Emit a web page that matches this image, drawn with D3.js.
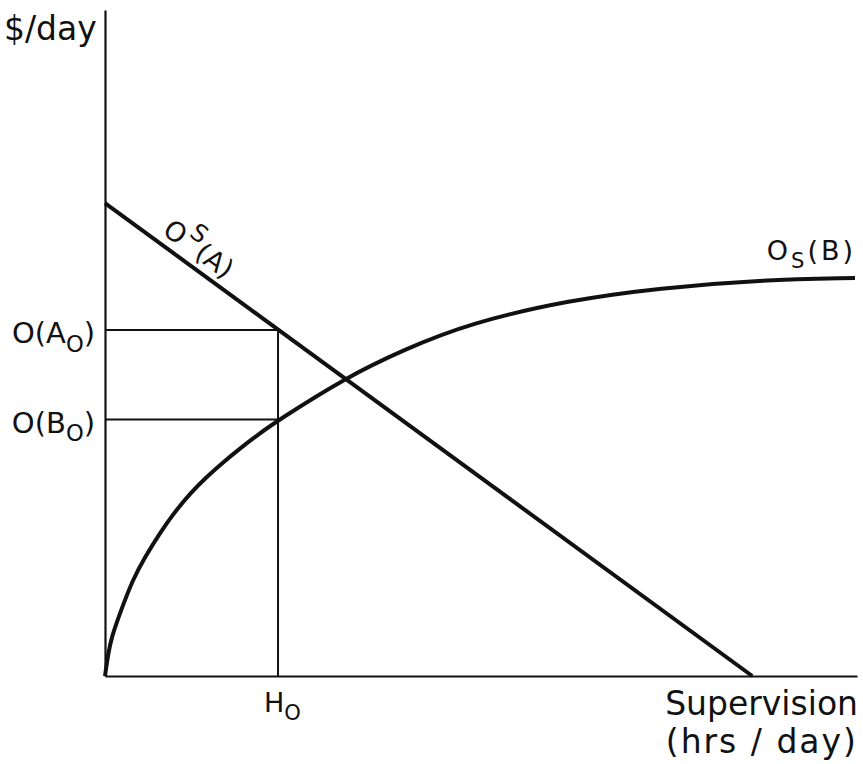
<!DOCTYPE html>
<html>
<head>
<meta charset="utf-8">
<script src="https://cdn.jsdelivr.net/npm/d3@7"></script>
<style>
  body { margin: 0; background: #fff; }
  text { font-family: "DejaVu Sans", sans-serif; fill: #111; }
  .axis path { stroke: #111; stroke-width: 2.2; }
  .guide { stroke: #111; stroke-width: 2; fill: none; }
  .curve { stroke: #111; stroke-width: 4; fill: none; }
</style>
</head>
<body>
<svg id="chart"></svg>
<script>
// supervision hours (x) vs $/day (y), arbitrary units
var lineA = [[0, 7.1], [8.63, 0]];
var curveBX = [0, 0.044, 0.089, 0.2, 0.373, 0.533, 0.733, 0.907, 1.133, 1.36, 1.573, 1.8, 2.027, 2.307,
               3.2, 3.973, 4.867, 6.2, 7.4, 8.733, 10];
var curveBY = [0, 0.345, 0.586, 0.946, 1.456, 1.787, 2.147, 2.429, 2.74, 2.995, 3.207, 3.416, 3.613, 3.839,
               4.474, 4.895, 5.3, 5.646, 5.826, 5.946, 5.976];
var H0 = 2.307;
var A0 = 5.195;
var B0 = 3.85;

var width = 863, height = 764;
var svg = d3.select("#chart").attr("width", width).attr("height", height);

var x = d3.scaleLinear().domain([0, 10]).range([105, 855]);
var y = d3.scaleLinear().domain([0, 10]).range([676, 10]);

svg.append("g")
    .attr("class", "axis")
    .attr("transform", "translate(" + x(0) + ",0)")
    .call(d3.axisLeft(y).ticks(0).tickSizeOuter(0));

svg.append("g")
    .attr("class", "axis")
    .attr("transform", "translate(0," + y(0) + ")")
    .call(d3.axisBottom(x.copy().range([105, 857])).ticks(0).tickSizeOuter(0));

// guide lines
svg.append("path").attr("class", "guide")
    .attr("d", d3.line()([[x(0), y(A0)], [x(H0), y(A0)], [x(H0), y(0)]]));
svg.append("path").attr("class", "guide")
    .attr("d", d3.line()([[x(0), y(B0)], [x(H0), y(B0)]]));

var line = d3.line()
    .x(function(d){ return x(d[0]); })
    .y(function(d){ return y(d[1]); });

svg.append("path").datum(lineA).attr("class", "curve").attr("d", line);

var bData = curveBX.map(function(v, i){ return [v, curveBY[i]]; });
svg.append("path").datum(bData).attr("class", "curve")
    .attr("d", line.curve(d3.curveBasis));

// labels
svg.append("text").attr("x", 4).attr("y", 40).attr("font-size", 33).text("$/day");

function subLabel(tx, ty, main, sub, after, size, anchor) {
    var t = svg.append("text").attr("x", tx).attr("y", ty)
        .attr("font-size", size).attr("text-anchor", anchor || "start");
    t.append("tspan").text(main);
    t.append("tspan").attr("font-size", size * 0.78).attr("dy", size * 0.3).text(sub);
    t.append("tspan").attr("dy", -size * 0.3).text(after);
    return t;
}
subLabel(95, y(A0) + 13, "O(A", "O", ")", 29, "end");
subLabel(95, y(B0) + 13, "O(B", "O", ")", 29, "end");
subLabel(264, 712, "H", "O", "", 27);
subLabel(856, 260, "O", "S", "(B)", 27, "end").attr("letter-spacing", 3);

// rotated label on line A
var ang = Math.atan2(y(lineA[1][1]) - y(lineA[0][1]), x(lineA[1][0]) - x(lineA[0][0])) * 180 / Math.PI;
var lx = 0.68, ly = lineA[0][1] + (lineA[1][1] - lineA[0][1]) * lx / lineA[1][0];
var la = svg.append("text")
    .attr("transform", "translate(" + x(lx) + "," + y(ly) + ") rotate(" + ang + ")")
    .attr("x", 0).attr("y", -9).attr("font-size", 27);
la.append("tspan").text("O");
la.append("tspan").attr("font-size", 24).attr("dy", -14).attr("dx", 2).text("S");
la.append("tspan").attr("dy", 14).attr("dx", 1).text("(A)");

svg.append("text").attr("x", 858).attr("y", 715).attr("font-size", 33)
    .attr("text-anchor", "end").text("Supervision");
svg.append("text").attr("x", 858).attr("y", 753).attr("font-size", 33)
    .attr("letter-spacing", 2).attr("text-anchor", "end").text("(hrs / day)");
</script>
</body>
</html>
